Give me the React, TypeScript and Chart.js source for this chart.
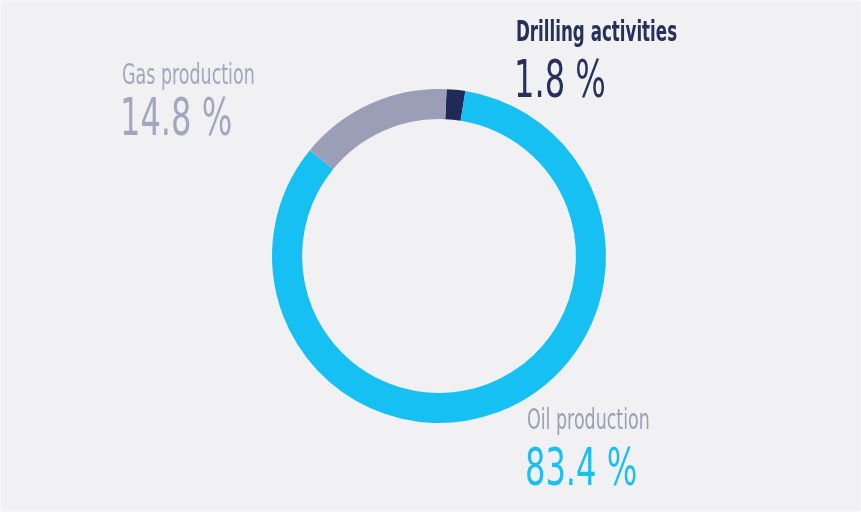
import React, { useEffect, useRef } from "react";
import { Chart, registerables } from "chart.js";

Chart.register(...registerables);

const categories = ["Drilling activities", "Oil production", "Gas production"];
const shares = [1.8, 83.4, 14.8];
const valueLabels = ["1.8 %", "83.4 %", "14.8 %"];
const colors = ["#1f2a56", "#17c0f2", "#9b9eb7"];

const FONT = '"DejaVu Sans Condensed", "Roboto", sans-serif';

export default function App() {
  const ref = useRef<HTMLCanvasElement | null>(null);

  useEffect(() => {
    document.body.style.margin = "0";
    if (!ref.current) return;
    const chart = new Chart(ref.current, {
      type: "doughnut",
      data: {
        labels: categories,
        datasets: [
          {
            data: shares,
            backgroundColor: colors,
            borderWidth: 0,
          },
        ],
      },
      options: {
        responsive: false,
        animation: false,
        rotation: 2.6,
        cutout: "82%",
        layout: { padding: { left: 272, right: 255, top: 89, bottom: 89 } },
        plugins: { legend: { display: false }, tooltip: { enabled: false } },
      },
    });
    return () => chart.destroy();
  }, []);

  const label = (
    text: string,
    left: number,
    top: number,
    size: number,
    color: string,
    weight: number,
    scale: number
  ) => (
    <div
      style={{
        position: "absolute",
        left,
        top,
        fontFamily: FONT,
        fontSize: size,
        lineHeight: 1,
        color,
        fontWeight: weight,
        whiteSpace: "nowrap",
        transform: `scaleX(${scale})`,
        transformOrigin: "left top",
      }}
    >
      {text}
    </div>
  );

  return (
    <div
      style={{
        position: "absolute",
        left: 0,
        top: 0,
        width: 861,
        height: 512,
        background: "#f1f1f4",
        boxSizing: "border-box",
        border: "1px solid #f8f8fa",
        overflow: "hidden",
      }}
    >
      <canvas ref={ref} width={861} height={512} style={{ position: "absolute", left: -1, top: -1 }} />
      {label(categories[2], 121, 59, 29, "#a3a6bd", 400, 0.67)}
      {label(valueLabels[2], 119, 91, 51, "#a3a6bd", 300, 0.7)}
      {label(categories[0], 515, 16, 29, "#26305a", 700, 0.64)}
      {label(valueLabels[0], 513, 53, 51, "#26305a", 300, 0.7)}
      {label(categories[1], 526, 404, 29, "#9c9fb2", 400, 0.67)}
      {label(valueLabels[1], 524, 441, 51, "#1bbff0", 300, 0.7)}
    </div>
  );
}
